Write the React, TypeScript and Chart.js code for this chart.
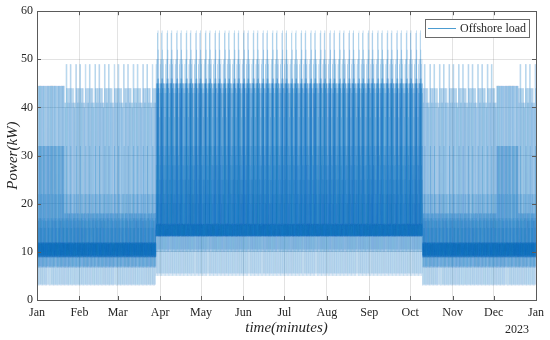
import React, { useEffect, useRef } from 'react';
import { Chart, registerables } from 'chart.js';

Chart.register(...registerables);

// ---------- data ----------
const monthLabels = ['Jan', 'Feb', 'Mar', 'Apr', 'May', 'Jun', 'Jul', 'Aug', 'Sep', 'Oct', 'Nov', 'Dec', 'Jan'];
const monthStartDays = [0, 31, 59, 90, 120, 151, 181, 212, 243, 273, 304, 334, 365];
const yTickValues = [0, 10, 20, 30, 40, 50, 60];
const yearLabel = '2023';
const seriesName = 'Offshore load';

// half-hourly load profiles (kW) of typical days
const winterDay = [10.2, 11.8, 9.0, 3.0, 9.4, 12.0, 8.8, 11.6, 6.8, 16.5, 9.2, 18.0, 9.0, 11.8, 9.3, 44.0, 9.1, 12.0, 8.9, 15.0, 9.4, 22.0, 9.0, 11.9, 9.2, 3.2, 11.8, 17.0, 12.0, 8.8, 41.0, 9.3, 11.7, 9.0, 18.0, 9.4, 12.0, 7.0, 11.8, 9.1, 44.0, 8.9, 11.9, 9.2, 6.7, 11.6, 9.0, 11.8];
const winterSpikeDay = [10.2, 11.8, 9.0, 3.0, 9.4, 12.0, 8.8, 11.6, 6.8, 16.5, 9.2, 18.0, 9.0, 11.8, 9.3, 49.0, 9.1, 12.0, 8.9, 15.0, 9.4, 22.0, 9.0, 11.9, 9.2, 3.2, 11.8, 17.0, 12.0, 8.8, 44.0, 9.3, 11.7, 9.0, 32.0, 9.4, 12.0, 7.0, 11.8, 9.1, 49.0, 8.9, 11.9, 9.2, 6.7, 11.6, 9.0, 11.8];
const winterLowTopDay = [10.2, 11.8, 9.0, 3.0, 9.4, 12.0, 8.8, 11.6, 6.8, 16.5, 9.2, 18.0, 9.0, 11.8, 9.3, 41.0, 9.1, 12.0, 8.9, 15.0, 9.4, 22.0, 9.0, 11.9, 9.2, 3.2, 11.8, 17.0, 12.0, 8.8, 40.0, 9.3, 11.7, 9.0, 18.0, 9.4, 12.0, 7.0, 11.8, 9.1, 41.0, 8.9, 11.9, 9.2, 6.7, 11.6, 9.0, 11.8];
const winterFlatDay = [10.2, 11.8, 9.0, 3.0, 9.4, 12.0, 8.8, 11.6, 6.8, 16.5, 9.2, 22.0, 9.0, 11.8, 9.3, 44.5, 9.1, 12.0, 8.9, 15.0, 9.4, 32.0, 9.0, 11.9, 9.2, 3.2, 11.8, 17.0, 12.0, 8.8, 44.5, 9.3, 11.7, 9.0, 32.0, 9.4, 12.0, 7.0, 11.8, 9.1, 44.5, 8.9, 11.9, 9.2, 6.7, 11.6, 9.0, 11.8];
const summerDay = [14.6, 13.2, 15.8, 13.4, 5.0, 15.6, 13.3, 45.0, 15.5, 13.2, 15.9, 28.0, 13.4, 15.7, 10.0, 15.8, 13.2, 44.0, 15.6, 13.5, 22.0, 13.3, 15.9, 13.2, 15.7, 30.0, 13.4, 15.8, 5.5, 15.6, 13.3, 25.0, 15.5, 13.2, 38.0, 15.8, 13.4, 45.0, 10.5, 15.9, 13.3, 32.0, 15.7, 13.2, 43.0, 15.6, 13.4, 20.0];
const summerHighDay = [14.6, 13.2, 15.8, 13.4, 5.0, 15.6, 13.3, 49.0, 15.5, 13.2, 15.9, 28.0, 13.4, 44.0, 10.0, 15.8, 13.2, 45.0, 15.6, 13.5, 22.0, 13.3, 15.9, 13.2, 15.7, 50.0, 13.4, 15.8, 5.5, 15.6, 13.3, 25.0, 15.5, 13.2, 45.0, 15.8, 13.4, 45.0, 10.5, 15.9, 13.3, 32.0, 15.7, 13.2, 43.0, 15.6, 13.4, 20.0];
const summerSpikeDay = [14.6, 13.2, 46.0, 13.4, 5.0, 15.6, 13.3, 55.5, 15.5, 40.0, 15.9, 45.0, 13.4, 45.0, 10.0, 15.8, 13.2, 50.0, 15.6, 13.5, 22.0, 13.3, 45.0, 13.2, 15.7, 56.0, 13.4, 15.8, 5.5, 15.6, 13.3, 44.0, 15.5, 13.2, 52.0, 15.8, 13.4, 46.0, 10.5, 15.9, 13.3, 32.0, 15.7, 13.2, 46.0, 15.6, 13.4, 44.0];

// which typical day falls on each weekday
const winterWeek = ['S', 'A', 'A', 'S', 'A', 'A', 'L'];
const summerWeek = ['S', 'H', 'A', 'H', 'S', 'A', 'H'];

// operating periods of the year (day indices)
const periodStart = [0, 20, 87, 282, 336, 352];
const periodEnd = [19, 86, 281, 335, 351, 364];
const periodRegime = ['flat', 'winter', 'summer', 'winter', 'flat', 'winter'];

// ---------- build the series ----------
const winterProfiles: Record<string, number[]> = { A: winterDay, S: winterSpikeDay, L: winterLowTopDay };
const summerProfiles: Record<string, number[]> = { A: summerDay, H: summerHighDay, S: summerSpikeDay };

function profileForDay(day: number): number[] {
  let regime = 'winter';
  for (let i = 0; i < periodStart.length; i++) {
    if (day >= periodStart[i] && day <= periodEnd[i]) regime = periodRegime[i];
  }
  if (regime === 'flat') return winterFlatDay;
  if (regime === 'summer') return summerProfiles[summerWeek[day % 7]];
  return winterProfiles[winterWeek[day % 7]];
}

function buildSeries() {
  const pts: { x: number; y: number }[] = [];
  for (let d = 0; d < 365; d++) {
    const prof = profileForDay(d);
    for (let h = 0; h < prof.length; h++) pts.push({ x: d + h / prof.length, y: prof[h] });
  }
  return pts;
}

const FONT = "'Liberation Serif', 'Times New Roman', serif";
const TEXT = '#262626';
const LINE_A = 'rgba(0,114,189,0.065)';
const LINE_B = 'rgba(0,114,188,0.065)';

const framePlugin = {
  id: 'frame',
  afterDatasetsDraw(chart: any) {
    const { ctx, chartArea: a, scales } = chart;
    ctx.save();
    ctx.strokeStyle = '#5a5a5a';
    ctx.lineWidth = 1;
    ctx.strokeRect(Math.round(a.left) + 0.5, Math.round(a.top) + 0.5, Math.round(a.right - a.left), Math.round(a.bottom - a.top));
    const tl = 4;
    ctx.beginPath();
    monthStartDays.forEach((d) => {
      const x = Math.round(scales.x.getPixelForValue(d)) + 0.5;
      ctx.moveTo(x, a.bottom); ctx.lineTo(x, a.bottom - tl);
      ctx.moveTo(x, a.top); ctx.lineTo(x, a.top + tl);
    });
    yTickValues.forEach((v) => {
      const y = Math.round(scales.y.getPixelForValue(v)) + 0.5;
      ctx.moveTo(a.left, y); ctx.lineTo(a.left + tl, y);
      ctx.moveTo(a.right, y); ctx.lineTo(a.right - tl, y);
    });
    ctx.stroke();

    // legend
    const lx = 425, ly = 19, lw = 104, lh = 18;
    ctx.fillStyle = '#ffffff';
    ctx.fillRect(lx, ly, lw, lh);
    ctx.strokeStyle = '#6a6a6a';
    ctx.strokeRect(lx + 0.5, ly + 0.5, lw, lh);
    ctx.strokeStyle = 'rgba(0,114,189,0.7)';
    ctx.beginPath();
    ctx.moveTo(428, ly + lh / 2 + 0.5);
    ctx.lineTo(456, ly + lh / 2 + 0.5);
    ctx.stroke();
    ctx.fillStyle = TEXT;
    ctx.font = `12px ${FONT}`;
    ctx.textBaseline = 'middle';
    ctx.textAlign = 'left';
    ctx.fillText(seriesName, 460, ly + lh / 2 + 1);

    // year under the last tick
    ctx.font = `12px ${FONT}`;
    ctx.textAlign = 'center';
    ctx.fillText(yearLabel, 517, 330);
    ctx.restore();
  },
};

export default function App() {
  const ref = useRef<HTMLCanvasElement | null>(null);
  useEffect(() => {
    if (!ref.current) return;
    const chart = new Chart(ref.current, {
      type: 'line',
      data: {
        datasets: [
          {
            label: seriesName,
            data: buildSeries(),
            borderColor: LINE_A,
            borderWidth: 1,
            pointRadius: 0,
            tension: 0,
            fill: false,
            segment: { borderColor: (c: any) => (c.p0DataIndex % 2 ? LINE_A : LINE_B) },
          } as any,
        ],
      },
      options: {
        animation: false,
        responsive: false,
        parsing: false,
        normalized: true,
        events: [],
        layout: { padding: { top: 11, right: 12, left: 0, bottom: 0 } },
        plugins: { legend: { display: false }, tooltip: { enabled: false } },
        scales: {
          x: {
            type: 'linear',
            min: 0,
            max: 365,
            afterBuildTicks: (s: any) => { s.ticks = monthStartDays.map((v) => ({ value: v })); },
            afterFit: (s: any) => { s.height = 40; },
            ticks: {
              autoSkip: false,
              maxRotation: 0,
              padding: 6,
              color: TEXT,
              font: { family: FONT, size: 12 },
              callback: (v: any) => monthLabels[monthStartDays.indexOf(Number(v))],
            },
            grid: { color: 'rgba(38,38,38,0.13)', drawTicks: false },
            border: { display: false },
            title: { display: true, text: 'time(minutes)', color: TEXT, font: { family: FONT, size: 15, style: 'italic', lineHeight: 1.0 } },
          },
          y: {
            min: 0,
            max: 60,
            afterBuildTicks: (s: any) => { s.ticks = yTickValues.map((v) => ({ value: v })); },
            afterFit: (s: any) => { s.width = 37; },
            ticks: { padding: 4, color: TEXT, font: { family: FONT, size: 12 } },
            grid: { color: 'rgba(38,38,38,0.13)', drawTicks: false },
            border: { display: false },
            title: { display: true, text: 'Power(kW)', color: TEXT, font: { family: FONT, size: 15, style: 'italic', lineHeight: 1.2 } },
          },
        },
      },
      plugins: [framePlugin],
    } as any);
    return () => chart.destroy();
  }, []);
  return (
    <div style={{ position: 'fixed', left: 0, top: 0, width: 550, height: 340, background: '#fff' }}>
      <canvas ref={ref} width={550} height={340} style={{ width: 550, height: 340, display: 'block' }} />
    </div>
  );
}
